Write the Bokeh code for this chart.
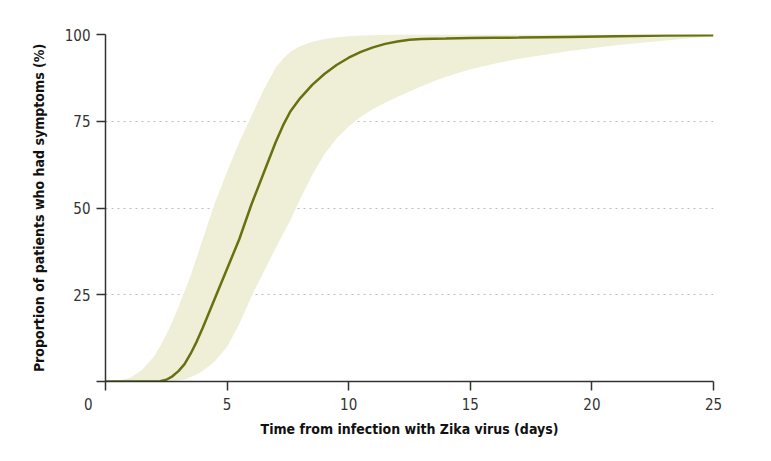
from bokeh.plotting import figure
from bokeh.models import Range1d, FixedTicker
from bokeh.embed import file_html
from bokeh.resources import INLINE

days = [0, 0.5, 1, 1.5, 2, 2.25, 2.5, 2.75, 3, 3.25, 3.5, 3.75, 4, 4.5, 5, 5.5, 6, 6.5, 7, 7.3, 7.6, 8, 8.5, 9, 9.5, 10, 10.5, 11, 11.5, 12, 12.5, 13, 13.5, 14, 15, 16, 17, 19, 21, 23, 25]
median = [0, 0, 0, 0, 0, 0.1, 0.5, 1.5, 3, 5, 8, 11.5, 15.5, 24, 32.5, 41, 51, 60, 69, 73.8, 77.8, 81.6, 85.5, 88.6, 91.2, 93.3, 95, 96.3, 97.3, 98, 98.5, 98.7, 98.8, 98.85, 99, 99.05, 99.1, 99.3, 99.5, 99.7, 99.8]
lower = [0, 0, 0, 0, 0, 0, 0, 0.1, 0.3, 0.6, 1.2, 2, 3, 5.8, 10, 16.5, 24.5, 31.5, 38.5, 42.5, 46.5, 52.5, 59.5, 65.5, 70, 73.5, 76.3, 78.5, 80.3, 82, 83.6, 85.1, 86.5, 87.8, 90, 91.6, 93, 95.2, 96.9, 98.3, 99.5]
upper = [0, 0.2, 1, 3.3, 7.3, 10.2, 13.5, 17.3, 21.5, 26, 30.5, 35.7, 41, 51.5, 60.5, 69, 76.5, 84, 90.5, 93, 95, 96.6, 97.9, 98.7, 99.2, 99.5, 99.7, 99.8, 99.9, 100, 100, 100, 100, 100, 100, 100, 100, 100, 100, 100, 100]
x_ticks = [0, 5, 10, 15, 20, 25]
y_ticks = [0, 25, 50, 75, 100]

FONT = "DejaVu Sans Condensed, Roboto"
AX = "#333333"

p = figure(width=763, height=453, output_backend="svg", toolbar_location=None,
           x_range=Range1d(0, 25), y_range=Range1d(0, 100),
           min_border_left=105, min_border_right=50, min_border_top=34, min_border_bottom=72)
p.outline_line_color = None
p.background_fill_color = "white"

p.varea(x=days, y1=lower, y2=upper, fill_color="#efefd8", fill_alpha=1)
p.line(x=days, y=median, line_color="#68700f", line_width=2.5)

p.xgrid.grid_line_color = None
p.ygrid.ticker = FixedTicker(ticks=y_ticks[1:])
p.ygrid.grid_line_color = "#bdbdbd"
p.ygrid.grid_line_dash = "2 4"
p.ygrid.grid_line_width = 1.2

for ax, ticks in ((p.xaxis[0], x_ticks), (p.yaxis[0], y_ticks)):
    ax.ticker = FixedTicker(ticks=ticks)
    ax.minor_tick_line_color = None
    ax.major_tick_in = 0
    ax.major_tick_out = 9
    ax.axis_line_color = AX
    ax.axis_line_width = 1.5
    ax.major_tick_line_color = AX
    ax.major_tick_line_width = 1.5
    ax.major_label_text_font = FONT
    ax.major_label_text_font_size = "15px"
    ax.major_label_text_color = AX
    ax.axis_label_text_font = FONT
    ax.axis_label_text_font_style = "bold"
    ax.axis_label_text_font_size = "14px"
    ax.axis_label_text_color = "#111111"

# shared origin label "0", shifted left of the corner
p.xaxis.major_label_overrides = {0: "0" + "\u00a0" * 8}
p.yaxis.major_label_overrides = {0: ""}

p.xaxis.axis_label = "Time from infection with Zika virus (days)"
p.yaxis.axis_label = "Proportion of patients who had symptoms (%)"
p.xaxis.major_label_standoff = 5
p.yaxis.major_label_standoff = 6
p.xaxis.axis_label_standoff = 4
p.yaxis.axis_label_standoff = 15

open("out.html", "w").write(file_html(p, INLINE))
